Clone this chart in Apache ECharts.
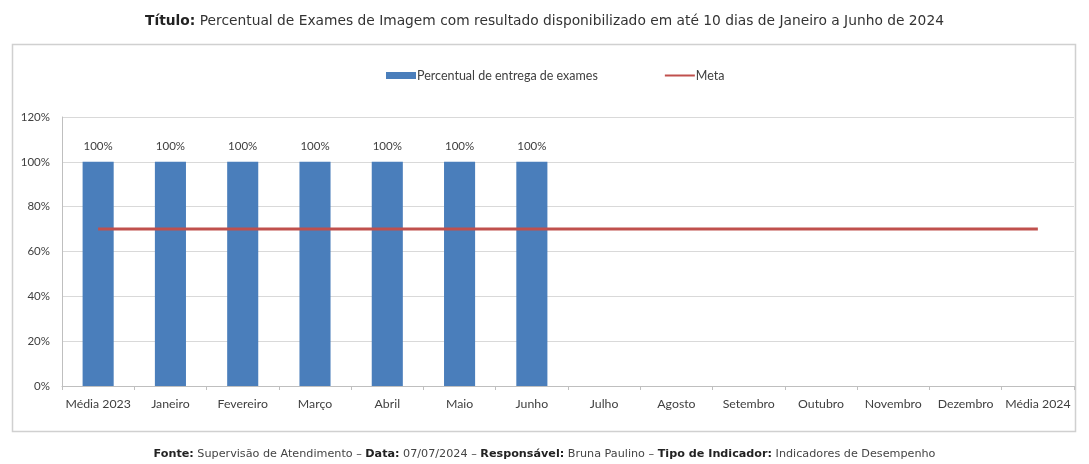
<!DOCTYPE html>
<html><head><meta charset="utf-8">
<script src="https://cdn.jsdelivr.net/npm/echarts@6/dist/echarts.min.js"></script>
<style>html,body{margin:0;padding:0;background:#fff}#c{width:1089px;height:464px}</style>
</head><body><div id="c"></div>
<script>
const categories = ['Média 2023','Janeiro','Fevereiro','Março','Abril','Maio','Junho','Julho','Agosto','Setembro','Outubro','Novembro','Dezembro','Média 2024'];
const entrega = [100,100,100,100,100,100,100,null,null,null,null,null,null,null];
const meta = [70,70,70,70,70,70,70,70,70,70,70,70,70,70];
const yTicks = [0,20,40,60,80,100,120];

const chart = echarts.init(document.getElementById('c'));
const axisFont = 'Lato, "Open Sans", sans-serif';
const headFont = '"DejaVu Sans", "Liberation Sans", Arial, sans-serif';
chart.setOption({
  animation:false,
  title:[{
    text:'{b|Título:} Percentual de Exames de Imagem com resultado disponibilizado em até 10 dias de Janeiro a Junho de 2024',
    left:'center', top:9,
    textStyle:{fontSize:13.8,fontWeight:'normal',color:'#333',fontFamily:headFont,
      rich:{b:{fontSize:13.8,fontWeight:'bold',color:'#222',fontFamily:headFont}}}
  },{
    text:'{b|Fonte:} Supervisão de Atendimento – {b|Data:} 07/07/2024 – {b|Responsável:} Bruna Paulino – {b|Tipo de Indicador:} Indicadores de Desempenho',
    left:'center', top:444,
    textStyle:{fontSize:11.2,fontWeight:'normal',color:'#444',fontFamily:headFont,
      rich:{b:{fontSize:11.2,fontWeight:'bold',color:'#222',fontFamily:headFont}}}
  }],
  graphic:[{type:'rect',shape:{x:12.5,y:44.5,width:1063,height:387},style:{fill:'none',stroke:'#d0d0d0',lineWidth:1.5},silent:true,z:-1}],
  legend:{
    top:64, left:381, itemGap:66, itemWidth:30, itemHeight:7,
    textStyle:{fontSize:12.5,color:'#404040',fontFamily:axisFont,padding:[0,0,0,-4]},
    data:[{name:'Percentual de entrega de exames',icon:'rect'},{name:'Meta',itemStyle:{opacity:0}}]
  },
  grid:{left:62,right:15,top:117,bottom:78,containLabel:false},
  xAxis:{
    type:'category', data:categories,
    axisLine:{lineStyle:{color:'#bfbfbf'}},
    axisTick:{show:true,length:4,lineStyle:{color:'#bfbfbf'}},
    axisLabel:{fontSize:12.3,color:'#404040',fontFamily:axisFont,margin:12,interval:0}
  },
  yAxis:{
    type:'value', min:0, max:120, interval:20,
    axisLine:{show:true,lineStyle:{color:'#bfbfbf'}},
    axisTick:{show:false},
    splitLine:{lineStyle:{color:'#d9d9d9'}},
    axisLabel:{fontSize:11.5,color:'#404040',fontFamily:axisFont,margin:12,
      formatter:v=>yTicks.includes(v)?v+'%':''}
  },
  series:[{
    name:'Percentual de entrega de exames', type:'bar', data:entrega, barWidth:'43%',
    itemStyle:{color:'#4a7ebb'},
    label:{show:true,position:'top',distance:10,formatter:p=>p.value+'%',fontSize:11.5,color:'#404040',fontFamily:axisFont}
  },{
    name:'Meta', type:'line', data:meta, symbol:'none',
    lineStyle:{color:'#c0504d',width:3}, itemStyle:{color:'#c0504d'}, z:3
  }]
});
</script></body></html>
